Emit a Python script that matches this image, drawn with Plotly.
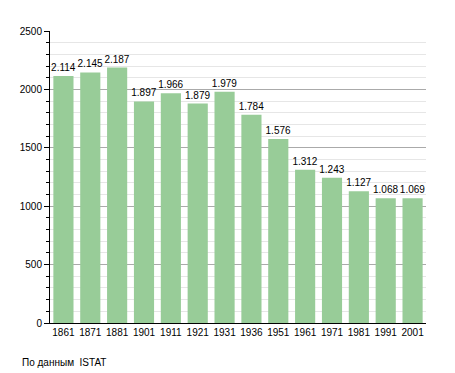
import plotly.graph_objects as go

years = ["1861", "1871", "1881", "1901", "1911", "1921", "1931", "1936",
         "1951", "1961", "1971", "1981", "1991", "2001"]
population = [2114, 2145, 2187, 1897, 1966, 1879, 1979, 1784,
              1576, 1312, 1243, 1127, 1068, 1069]
labels = [f"{v:,}".replace(",", ".") for v in population]
source_text = "По данным  ISTAT"

FONT = "Liberation Sans, Arial, sans-serif"

fig = go.Figure(go.Bar(
    x=years, y=population, text=labels, textposition="outside",
    constraintext="none",
    marker=dict(color="#98cc98", line=dict(width=0)),
    textfont=dict(family=FONT, size=10, color="black"),
    cliponaxis=False,
))

fig.update_layout(
    width=455, height=373,
    margin=dict(l=50, r=29, t=31, b=50, autoexpand=False),
    plot_bgcolor="white", paper_bgcolor="white",
    bargap=0.25,
    showlegend=False,
    font=dict(family=FONT, size=10, color="black"),
)
fig.update_xaxes(
    type="category", showline=True, linecolor="black", linewidth=1,
    ticks="", tickfont=dict(size=10), showgrid=False, automargin=False,
)
fig.update_yaxes(
    range=[0, 2500], dtick=500, showline=True, linecolor="black", linewidth=1,
    ticks="outside", ticklen=5, tickcolor="black", tickfont=dict(size=10),
    showgrid=True, gridcolor="#aaaaaa", gridwidth=1, zeroline=False,
    automargin=False,
    minor=dict(dtick=100, ticks="outside", ticklen=3, tickcolor="black",
               showgrid=True, gridcolor="#e6e6e6", gridwidth=1),
)
fig.add_annotation(
    text=source_text, xref="paper", yref="paper", x=-0.08, y=-0.134,
    xanchor="left", yanchor="middle", showarrow=False,
    font=dict(family=FONT, size=10, color="black"),
)
fig.write_html("out.html", config={"displayModeBar": False, "staticPlot": True})

with open("out.html", encoding="utf-8") as f:
    html = f.read()
html = html.replace("<head>", "<head><style>html,body{margin:0;padding:0;overflow:hidden;}</style>", 1)
with open("out.html", "w", encoding="utf-8") as f:
    f.write(html)
